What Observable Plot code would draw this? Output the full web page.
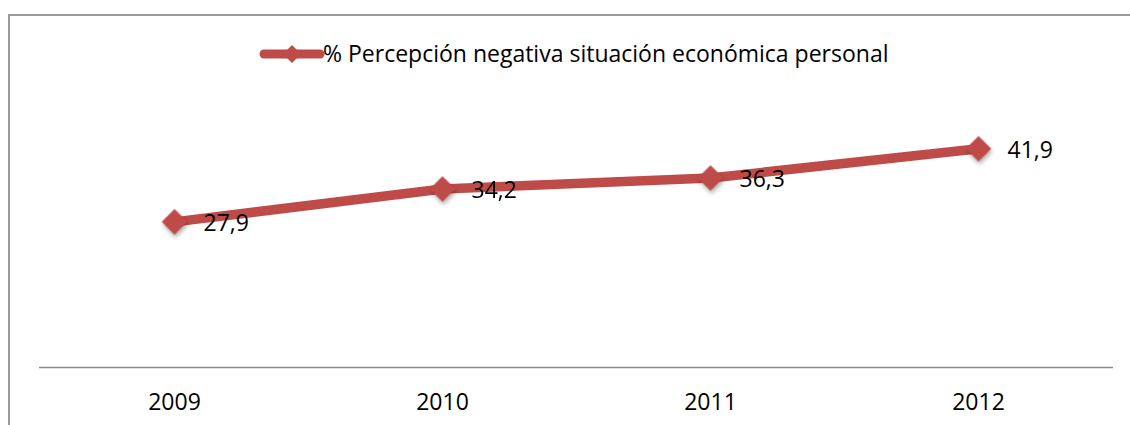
<!DOCTYPE html>
<html>
<head>
<meta charset="utf-8">
<script src="https://cdn.jsdelivr.net/npm/d3@7"></script>
<script src="https://cdn.jsdelivr.net/npm/@observablehq/plot@0.6"></script>
<style>
  html, body { margin: 0; padding: 0; background: #fff; }
  #wrap { position: relative; width: 1130px; height: 425px; overflow: hidden; background: #fff; }
  #frame { position: absolute; left: 8px; top: 14px; width: 1200px; height: 500px; border: 2px solid #999; box-sizing: border-box; }
  #legend { position: absolute; left: 250px; top: 30px; }
  #chart { position: absolute; left: 0; top: 90px; }
</style>
</head>
<body>
<div id="wrap">
  <div id="frame"></div>
  <svg id="legend" width="700" height="45" style="font-family:'Open Sans', sans-serif;">
    <line x1="14" y1="24" x2="70" y2="24" stroke="#BE4B48" stroke-width="9" stroke-linecap="round"></line>
    <path d="M42,15L51,24L42,33L33,24Z" fill="#BE4B48"></path>
    <text x="73" y="32" font-size="23" fill="#000">% Percepción negativa situación económica personal</text>
  </svg>
  <div id="chart"></div>
</div>
<script>
const years = ["2009", "2010", "2011", "2012"];
const values = [27.9, 34.2, 36.3, 41.9];
const valueLabels = ["27,9", "34,2", "36,3", "41,9"];

const data = years.map((y, i) => ({year: y, value: values[i], label: valueLabels[i]}));
const red = "#BE4B48";

const chart = Plot.plot({
  width: 1130,
  height: 335,
  marginTop: 16,
  marginBottom: 58,
  marginLeft: 39,
  marginRight: 17,
  x: {type: "point", domain: years, padding: 0.5, tickSize: 0, tickPadding: 26, label: null},
  y: {domain: [0, 50], axis: null},
  style: {fontFamily: "'Open Sans', sans-serif", fontSize: "23px", color: "#000", background: "transparent"},
  marks: [
    Plot.ruleY([0], {stroke: "#8c8c8c", strokeWidth: 1.5}),
    Plot.line(data, {x: "year", y: "value", stroke: red, strokeWidth: 9.5, strokeLinejoin: "round"}),
    Plot.dot(data, {x: "year", y: "value", symbol: "diamond2", r: 11.5, fill: red, stroke: "none"}),
    Plot.text(data, {x: "year", y: "value", text: "label", textAnchor: "start", dx: 29, dy: 2, fontSize: 23, fill: "#000"})
  ]
});
document.getElementById("chart").appendChild(chart);
d3.select(chart).selectAll('g[aria-label="dot"]').style("filter", "drop-shadow(1px 3px 2px rgba(0,0,0,0.3))");
d3.select(chart).selectAll('g[aria-label="x-axis"] text, g[aria-label="x-axis tick label"] text').attr("font-size", 23);
</script>
</body>
</html>
